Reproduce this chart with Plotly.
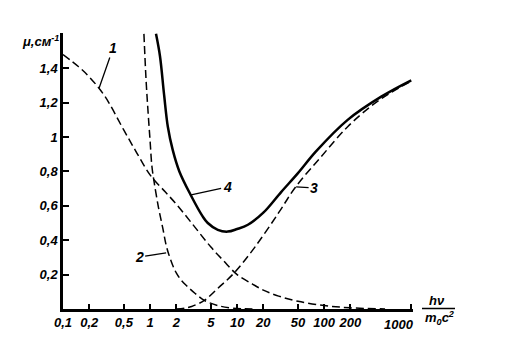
import math
import plotly.graph_objects as go

# x: photon energy in units of m0c^2 (log scale); y: mu, cm^-1
x1 = [0.1, 0.15, 0.2, 0.3, 0.5, 0.7, 1, 1.5, 2, 3, 5, 7, 10, 15, 20, 30, 50, 100, 200, 500]
y1 = [1.48, 1.41, 1.35, 1.24, 1.04, 0.91, 0.78, 0.68, 0.61, 0.50, 0.36, 0.28, 0.20, 0.145, 0.11, 0.075, 0.045, 0.02, 0.007, 0.0]

x2 = [0.85, 0.9, 0.95, 1.0, 1.05, 1.12, 1.25, 1.4, 1.55, 1.8, 2.0, 2.3, 2.7, 3.3, 4.2, 6, 9, 15]
y2 = [1.6, 1.33, 1.14, 0.98, 0.83, 0.73, 0.59, 0.47, 0.36, 0.26, 0.21, 0.165, 0.13, 0.09, 0.05, 0.02, 0.005, 0.0]

x3 = [2, 2.5, 3, 4.2, 6, 9.25, 16, 30, 47, 92, 186, 347, 590, 1000]
y3 = [0.0, 0.005, 0.015, 0.05, 0.12, 0.21, 0.36, 0.56, 0.71, 0.885, 1.06, 1.18, 1.26, 1.325]

x4 = [1.17, 1.3, 1.45, 1.6, 1.82, 2.17, 2.95, 4, 4.6, 6, 7.8, 10, 13.3, 20, 32, 50, 80, 186, 452, 1000]
y4 = [1.6, 1.47, 1.245, 1.06, 0.925, 0.8, 0.66, 0.54, 0.50, 0.46, 0.45, 0.465, 0.49, 0.56, 0.68, 0.79, 0.915, 1.10, 1.235, 1.33]

x_ticks = [0.1, 0.2, 0.5, 1, 2, 5, 10, 20, 50, 100, 200, 1000]
x_ticktext = ["0,1", "0,2", "0,5", "1", "2", "5", "10", "20", "50", "100", "200", ""]
last_tick_text = "1000"
y_ticks = [0.2, 0.4, 0.6, 0.8, 1.0, 1.2, 1.4]
y_ticktext = ["0,2", "0,4", "0,6", "0,8", "1", "1,2", "1,4"]

W, H = 530, 349
L, T, B = 63, 33, 40
PW = 350
R = W - L - PW
PH = H - T - B

def px(xp):
    return (xp - L) / PW

def py(yp):
    return (H - B - yp) / PH

font = dict(family="Liberation Sans, DejaVu Sans, sans-serif", size=13, color="black",
            style="italic", weight="bold")

dash = "8px,4px"
fig = go.Figure()
fig.add_trace(go.Scatter(x=x1, y=y1, mode="lines", line=dict(color="black", width=1.5, dash=dash, shape="spline")))
fig.add_trace(go.Scatter(x=x2, y=y2, mode="lines", line=dict(color="black", width=1.5, dash=dash, shape="spline")))
fig.add_trace(go.Scatter(x=x3, y=y3, mode="lines", line=dict(color="black", width=1.5, dash=dash, shape="spline")))
fig.add_trace(go.Scatter(x=x4, y=y4, mode="lines", line=dict(color="black", width=2.5, shape="spline")))

def lab(text, x, y, ax, ay):
    return dict(text=text, x=math.log10(x), y=y, xref="x", yref="y", ax=ax, ay=ay,
                showarrow=True, arrowhead=0, arrowwidth=1.3, arrowcolor="black",
                font=dict(family=font["family"], size=14, color="black", style="italic", weight="bold"))

def txt(text, xp, yp):
    return dict(text=text, x=px(xp), y=py(yp), xref="paper", yref="paper",
                xanchor="center", yanchor="middle", showarrow=False, font=font)

annotations = [
    lab("1", 0.26, 1.285, 14, -40),
    lab("2", 1.53, 0.326, -27, 4),
    lab("4", 2.96, 0.663, 36, -8),
    lab("3", 47.6, 0.71, 18, 1),
    txt("μ,см<sup>-1</sup>", 40, 41),
    txt("hν", 437, 300),
    txt("m<sub>0</sub>c<sup>2</sup>", 439, 318),
    dict(text=last_tick_text, x=math.log10(x_ticks[-1]), y=0, xref="x", yref="paper",
         xanchor="center", yanchor="top", yshift=-6, xshift=-12, showarrow=False, font=font),
]

shapes = [
    dict(type="line", xref="paper", yref="paper", x0=px(422), x1=px(455), y0=py(308.5), y1=py(308.5),
         line=dict(color="black", width=1.5)),
]

fig.update_layout(
    width=W, height=H,
    margin=dict(l=L, r=R, t=T, b=B),
    plot_bgcolor="white", paper_bgcolor="white",
    showlegend=False,
    annotations=annotations,
    shapes=shapes,
    font=font,
)
fig.update_xaxes(type="log", range=[-1, 3.02], tickvals=x_ticks, ticktext=x_ticktext,
                 ticks="inside", ticklen=5, tickwidth=1.5, tickcolor="black",
                 showline=True, linecolor="black", linewidth=2.5, showgrid=False,
                 zeroline=False, tickfont=font)
fig.update_yaxes(range=[0, 1.605], tickvals=y_ticks, ticktext=y_ticktext,
                 ticks="inside", ticklen=6, tickwidth=1.5, tickcolor="black",
                 showline=True, linecolor="black", linewidth=2.5, showgrid=False,
                 zeroline=False, tickfont=font)

fig.write_html("out.html", config={"displayModeBar": False},
               post_script="document.body.style.margin='0';document.body.style.overflow='hidden';")
